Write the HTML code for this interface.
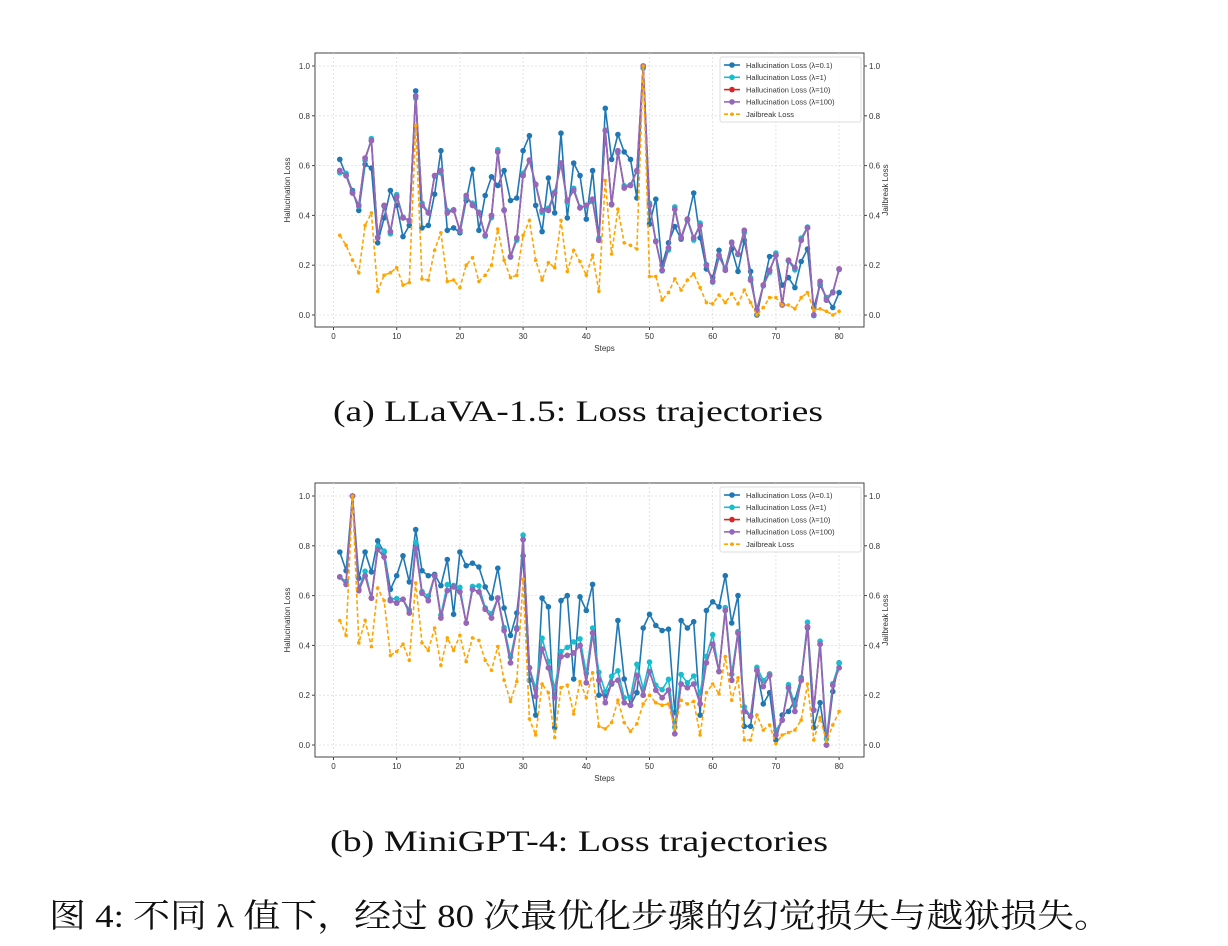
<!DOCTYPE html>
<html><head><meta charset="utf-8"><style>
body{margin:0;background:#fff;width:1228px;height:946px;overflow:hidden;position:relative}
.cap{position:absolute;font-family:"Liberation Serif","Noto Serif CJK SC",serif;color:#111;white-space:nowrap;transform-origin:0 0;line-height:1}
</style></head><body>
<svg id="s" width="1228" height="946" style="position:absolute;left:0;top:0" font-family="Liberation Sans, DejaVu Sans, sans-serif"></svg>
<div class="cap" id="c1" data-l="333" data-w="490" style="top:397px;font-size:30px">(a) LLaVA-1.5: Loss trajectories</div>
<div class="cap" id="c2" data-l="330" data-w="498" style="top:827px;font-size:30px">(b) MiniGPT-4: Loss trajectories</div>
<div class="cap" id="c3" data-l="49" data-w="1062" style="top:901px;font-size:33px">图 4: 不同 λ 值下，经过 80 次最优化步骤的幻觉损失与越狱损失。</div>
<script>
const A={b:[.625,.56,.5,.42,.605,.59,.29,.39,.5,.44,.315,.36,.9,.35,.36,.485,.66,.34,.35,.33,.46,.585,.34,.48,.555,.52,.58,.46,.47,.66,.72,.44,.335,.55,.41,.73,.39,.61,.56,.385,.58,.3,.83,.625,.725,.655,.625,.47,1,.365,.465,.2,.29,.355,.305,.38,.49,.31,.185,.15,.26,.18,.265,.175,.3,.175,0,.12,.235,.24,.12,.15,.11,.215,.265,.03,.12,.07,.03,.09],
p:[.58,.56,.49,.44,.63,.7,.31,.44,.335,.475,.39,.38,.88,.44,.41,.56,.58,.41,.42,.34,.48,.44,.41,.32,.4,.655,.42,.235,.31,.56,.62,.525,.42,.42,.49,.61,.46,.5,.43,.44,.465,.3,.74,.445,.66,.51,.52,.58,1,.44,.295,.18,.27,.425,.31,.385,.31,.36,.2,.135,.24,.18,.29,.245,.34,.14,.02,.12,.18,.24,.04,.22,.19,.3,.35,0,.135,.06,.09,.185],
j:[.32,.28,.22,.17,.36,.41,.095,.16,.17,.19,.12,.13,.76,.145,.14,.26,.33,.135,.14,.11,.2,.23,.135,.16,.2,.345,.22,.15,.16,.32,.38,.22,.14,.21,.19,.38,.175,.26,.215,.16,.24,.095,.54,.245,.425,.29,.28,.265,1,.155,.155,.06,.09,.145,.1,.14,.165,.11,.05,.045,.08,.05,.085,.045,.1,.05,0,.03,.07,.07,.04,.04,.025,.07,.09,.02,.025,.015,0,.015]};
const B={b:[.775,.7,1,.67,.775,.695,.82,.775,.625,.68,.76,.655,.865,.7,.68,.685,.64,.745,.525,.775,.72,.73,.715,.635,.59,.71,.55,.44,.53,.76,.26,.12,.59,.555,.07,.58,.6,.265,.595,.54,.645,.2,.2,.245,.5,.265,.16,.21,.47,.525,.48,.46,.465,.13,.5,.47,.495,.12,.54,.575,.555,.68,.49,.6,.075,.075,.3,.165,.21,.02,.12,.135,.18,.27,.47,.07,.17,0,.215,.33],
p:[.675,.645,1,.62,.68,.59,.785,.755,.58,.57,.585,.53,.79,.61,.58,.68,.51,.62,.635,.615,.49,.625,.615,.545,.51,.59,.46,.33,.465,.825,.31,.195,.385,.31,.19,.355,.36,.37,.4,.25,.45,.26,.17,.25,.26,.17,.16,.28,.2,.295,.22,.19,.22,.045,.245,.23,.245,.165,.33,.405,.295,.54,.26,.45,.135,.115,.3,.235,.28,.04,.1,.23,.135,.26,.475,.14,.405,0,.24,.31],
j:[.5,.44,1,.41,.5,.395,.63,.58,.36,.375,.405,.34,.65,.41,.38,.47,.32,.43,.38,.44,.335,.43,.42,.34,.3,.395,.26,.175,.255,.665,.105,.04,.245,.21,.03,.23,.24,.125,.255,.19,.29,.075,.065,.09,.18,.09,.055,.085,.165,.2,.17,.16,.165,.065,.18,.165,.175,.04,.21,.245,.205,.355,.18,.27,.02,.02,.12,.06,.08,.005,.04,.05,.06,.1,.245,.02,.11,.015,.08,.135]};
B.c=B.p.map((v,i)=>Math.min(1,v+((i*7)%5)*0.006+((i>30&&i<60)?0.02:0)));
A.c=A.p.map((v,i)=>Math.min(1,v+((i*3)%4-1.5)*0.006));
let h='';
function plot(D,top){
 const L=315,R=864,T=top,Bt=top+274,y0=top+262,y1=top+13;
 const X=s=>333.5+(s)*6.32, Y=v=>y0-(y0-y1)*v;
 h+=`<rect x="${L}" y="${T}" width="${R-L}" height="${Bt-T}" fill="#fff" stroke="#444" stroke-width="1"/>`;
 for(let t=0;t<=80;t+=10){const x=X(t);h+=`<line x1="${x}" y1="${T}" x2="${x}" y2="${Bt}" stroke="#ddd" stroke-dasharray="2,2" stroke-width=".8"/><line x1="${x}" y1="${Bt}" x2="${x}" y2="${Bt+3}" stroke="#444"/><text x="${x}" y="${Bt+12}" font-size="8" text-anchor="middle" fill="#333">${t}</text>`;}
 for(let k=0;k<=5;k++){const v=k*0.2,y=Y(v);h+=`<line x1="${L}" y1="${y}" x2="${R}" y2="${y}" stroke="#ddd" stroke-dasharray="2,2" stroke-width=".8"/><line x1="${L-3}" y1="${y}" x2="${L}" y2="${y}" stroke="#444"/><line x1="${R}" y1="${y}" x2="${R+3}" y2="${y}" stroke="#444"/><text x="${L-5}" y="${y+3}" font-size="8" text-anchor="end" fill="#333">${v.toFixed(1)}</text><text x="${R+5}" y="${y+3}" font-size="8" fill="#333">${v.toFixed(1)}</text>`;}
 h+=`<text x="${(L+R)/2+15}" y="${Bt+24}" font-size="8" text-anchor="middle" fill="#333">Steps</text>`;
 h+=`<text transform="translate(290,${(T+Bt)/2}) rotate(-90)" font-size="8" text-anchor="middle" fill="#333">Hallucination Loss</text>`;
 h+=`<text transform="translate(888,${(T+Bt)/2}) rotate(-90)" font-size="8" text-anchor="middle" fill="#333">Jailbreak Loss</text>`;
 const ser=(arr,col,dash,r)=>{let p=arr.map((v,i)=>`${X(i+1).toFixed(1)},${Y(v).toFixed(1)}`).join(' ');
  h+=`<polyline points="${p}" fill="none" stroke="${col}" stroke-width="1.6" ${dash?'stroke-dasharray="4,2.5"':''}/>`;
  arr.forEach((v,i)=>h+=`<circle cx="${X(i+1).toFixed(1)}" cy="${Y(v).toFixed(1)}" r="${r}" fill="${col}"/>`);};
 ser(D.b,'#1f77b4',0,2.8);ser(D.c,'#17becf',0,2.8);ser(D.p,'#d62728',0,2.8);ser(D.p,'#9467bd',0,2.8);ser(D.j,'#ffa500',1,1.8);
 const lx=720,ly=top+4;
 h+=`<rect x="${lx}" y="${ly}" width="141" height="65" fill="#fff" fill-opacity=".85" stroke="#ddd" rx="2"/>`;
 const items=[['#1f77b4','Hallucination Loss (λ=0.1)'],['#17becf','Hallucination Loss (λ=1)'],['#d62728','Hallucination Loss (λ=10)'],['#9467bd','Hallucination Loss (λ=100)'],['#ffa500','Jailbreak Loss']];
 items.forEach((it,i)=>{const y=ly+8+i*12.3;h+=`<line x1="${lx+4}" y1="${y}" x2="${lx+20}" y2="${y}" stroke="${it[0]}" stroke-width="1.6" ${i==4?'stroke-dasharray="4,2"':''}/><circle cx="${lx+12}" cy="${y}" r="${i==4?1.8:2.8}" fill="${it[0]}"/><text x="${lx+26}" y="${y+2.8}" font-size="7.5" fill="#333">${it[1]}</text>`;});
}
plot(A,53);plot(B,483);
document.getElementById('s').innerHTML=h;
document.querySelectorAll('.cap').forEach(e=>{const w=e.getBoundingClientRect().width;const tw=+e.dataset.w;e.style.left=e.dataset.l+'px';e.style.transform='scaleX('+(tw/w)+')';});
</script>
</body></html>
